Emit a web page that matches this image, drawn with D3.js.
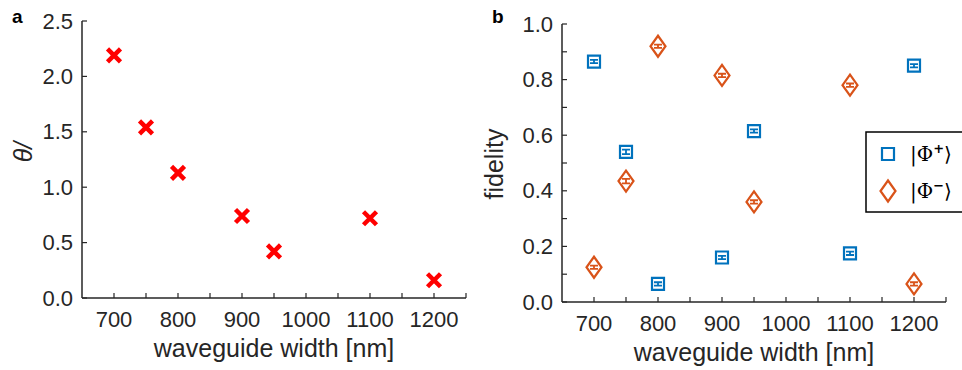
<!DOCTYPE html>
<html>
<head>
<meta charset="utf-8">
<script src="https://cdn.jsdelivr.net/npm/d3@7"></script>
<style>
  body { margin: 0; background: #fff; }
  svg text { font-family: "Liberation Sans", Arial, Helvetica, sans-serif; fill: #262626; }
</style>
</head>
<body>
<svg id="chart" width="962" height="370"></svg>
<script>
// --- data ---
const widths = [700, 750, 800, 900, 950, 1100, 1200];
const theta = [2.19, 1.54, 1.13, 0.74, 0.42, 0.72, 0.16];
const fidPlus = [0.865, 0.54, 0.065, 0.16, 0.615, 0.175, 0.85];
const fidMinus = [0.125, 0.435, 0.92, 0.815, 0.36, 0.78, 0.065];
const errPlus = [0.006, 0.008, 0.006, 0.006, 0.006, 0.006, 0.006];
const errMinus = [0.006, 0.008, 0.006, 0.006, 0.006, 0.006, 0.006];
const xTicks = [700, 800, 900, 1000, 1100, 1200];
const thetaTicks = [0, 0.5, 1, 1.5, 2, 2.5];
const fidTicks = [0, 0.2, 0.4, 0.6, 0.8, 1.0];

const BLUE = "#0072bd", ORANGE = "#d95319", RED = "#ff0000", INK = "#262626";

const svg = d3.select("#chart");

function drawAxes(g, x, y, yLabels, yMinor, xLabel) {
    const [x0, x1] = x.range();
    const [y0, y1] = y.range();
    // axis lines
    g.append("line").attr("x1", x0).attr("x2", x1).attr("y1", y0).attr("y2", y0)
        .attr("stroke", INK).attr("stroke-width", 1.5);
    g.append("line").attr("x1", x0).attr("x2", x0).attr("y1", y0).attr("y2", y1)
        .attr("stroke", INK).attr("stroke-width", 1.5);

    // x ticks every 50, inward
    d3.range(700, 1251, 50).forEach(v => {
        g.append("line").attr("x1", x(v)).attr("x2", x(v)).attr("y1", y0).attr("y2", y0 - 5)
            .attr("stroke", INK).attr("stroke-width", 1.2);
    });
    g.selectAll(".xl").data(xTicks).enter().append("text")
        .attr("x", d => x(d)).attr("y", y0 + 29)
        .attr("text-anchor", "middle").style("font-size", "22px")
        .text(d => d);

    yMinor.forEach(v => {
        g.append("line").attr("x1", x0).attr("x2", x0 + 5).attr("y1", y(v)).attr("y2", y(v))
            .attr("stroke", INK).attr("stroke-width", 1.2);
    });
    g.selectAll(".yl").data(yLabels).enter().append("text")
        .attr("x", x0 - 9).attr("y", d => y(d) + 7.5)
        .attr("text-anchor", "end").style("font-size", "22px")
        .text(d => d.toFixed(1));

    g.append("text")
        .attr("x", (x0 + x1) / 2).attr("y", y0 + 59)
        .attr("text-anchor", "middle").style("font-size", "25px")
        .text(xLabel);
}

// --- panel a ---
const gA = svg.append("g");
const xA = d3.scaleLinear().domain([650, 1250]).range([82, 466]);
const yA = d3.scaleLinear().domain([0, 2.5]).range([298, 21]);
drawAxes(gA, xA, yA, thetaTicks, thetaTicks, "waveguide width [nm]");

gA.append("text").attr("transform", "translate(32,152) rotate(-90)")
    .attr("text-anchor", "middle").style("font-size", "25px").style("font-style", "italic")
    .text("θ/");
gA.append("text").attr("x", 12).attr("y", 23).style("font-size", "19px").style("font-weight", "bold")
    .style("fill", "#000").text("a");

gA.selectAll(".x").data(widths).enter().append("path")
    .attr("transform", (d, i) => `translate(${xA(d)},${yA(theta[i])})`)
    .attr("d", "M-6.5,-6.5L6.5,6.5M-6.5,6.5L6.5,-6.5")
    .attr("stroke", RED).attr("stroke-width", 4.5).attr("fill", "none");

// --- panel b ---
const gB = svg.append("g");
const xB = d3.scaleLinear().domain([650, 1250]).range([562, 946]);
const yB = d3.scaleLinear().domain([0, 1]).range([302, 24]);
drawAxes(gB, xB, yB, fidTicks, d3.range(0, 1.01, 0.1), "waveguide width [nm]");

gB.append("text").attr("transform", "translate(503,164) rotate(-90)")
    .attr("text-anchor", "middle").style("font-size", "25px")
    .text("fidelity");
gB.append("text").attr("x", 492).attr("y", 23).style("font-size", "19px").style("font-weight", "bold")
    .style("fill", "#000").text("b");

function errBars(g, vals, errs, color) {
    widths.forEach((w, i) => {
        const cx = xB(w), ya = yB(vals[i] - errs[i]), yb = yB(vals[i] + errs[i]);
        g.append("path")
            .attr("d", `M${cx},${ya}L${cx},${yb}M${cx - 4},${ya}L${cx + 4},${ya}M${cx - 4},${yb}L${cx + 4},${yb}`)
            .attr("stroke", color).attr("stroke-width", 1.8).attr("fill", "none");
    });
}
errBars(gB, fidPlus, errPlus, BLUE);
errBars(gB, fidMinus, errMinus, ORANGE);

const squarePath = "M-6,-6H6V6H-6Z";
const diamondPath = "M0,-10.5L7.5,0L0,10.5L-7.5,0Z";

gB.selectAll(".sq").data(widths).enter().append("path")
    .attr("transform", (d, i) => `translate(${xB(d)},${yB(fidPlus[i])})`)
    .attr("d", squarePath).attr("stroke", BLUE).attr("stroke-width", 2.2).attr("fill", "none");
gB.selectAll(".di").data(widths).enter().append("path")
    .attr("transform", (d, i) => `translate(${xB(d)},${yB(fidMinus[i])})`)
    .attr("d", diamondPath).attr("stroke", ORANGE).attr("stroke-width", 2.2).attr("fill", "none");

// legend
const leg = svg.append("g");
leg.append("rect").attr("x", 866).attr("y", 132).attr("width", 110).attr("height", 80)
    .attr("fill", "#fff").attr("stroke", "#000").attr("stroke-width", 1.5);
leg.append("path").attr("transform", "translate(888,154)").attr("d", squarePath)
    .attr("stroke", BLUE).attr("stroke-width", 2.2).attr("fill", "none");
leg.append("path").attr("transform", "translate(888,191)").attr("d", diamondPath)
    .attr("stroke", ORANGE).attr("stroke-width", 2.2).attr("fill", "none");
const legLabels = ["+", "\u2212"];
legLabels.forEach((s, i) => {
    const t = leg.append("text").attr("x", 910).attr("y", 161 + i * 37)
        .style("font-size", "20px").style("font-family", "'DejaVu Serif', serif").style("fill", "#000");
    t.append("tspan").text("|Φ");
    t.append("tspan").attr("dy", -8).style("font-size", "13px").style("font-weight", "bold").text(s);
    t.append("tspan").attr("dy", 8).text("⟩");
});
</script>
</body>
</html>
